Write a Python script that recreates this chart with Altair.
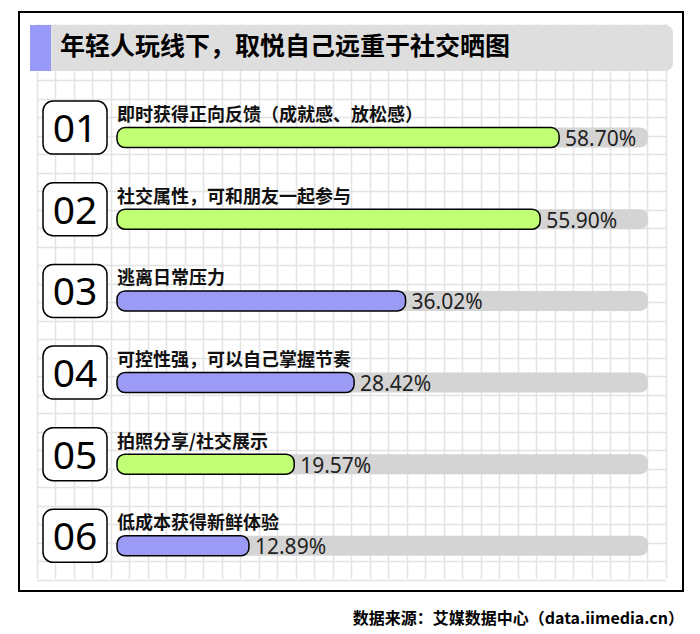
import altair as alt
import pandas as pd

# ---------------- data ----------------
title_text = "年轻人玩线下，取悦自己远重于社交晒图"
source_text = "数据来源：艾媒数据中心（data.iimedia.cn）"
ranks = ["01", "02", "03", "04", "05", "06"]
labels = [
    "即时获得正向反馈（成就感、放松感）",
    "社交属性，可和朋友一起参与",
    "逃离日常压力",
    "可控性强，可以自己掌握节奏",
    "拍照分享/社交展示",
    "低成本获得新鲜体验",
]
values = [58.70, 55.90, 36.02, 28.42, 19.57, 12.89]

# ---------------- style ----------------
GREEN = "#C1FF74"
PURPLE = "#9B9BF6"
bar_colors = [GREEN, GREEN, PURPLE, PURPLE, GREEN, PURPLE]
CJK = "Noto Sans CJK SC"
LATIN = "Noto Sans"

df = pd.DataFrame({"rank": ranks, "label": labels, "value": values,
                   "row": list(range(len(ranks)))})
df["vlabel"] = df["value"].map(lambda v: f"{v:.2f}%")
tdf = pd.DataFrame({"title": [title_text], "source": [source_text]})

# ---------------- background grid (axis grid lines) ----------------
grid = alt.Chart(pd.DataFrame({"gx": [0], "gy": [0]})).mark_point(opacity=0).encode(
    x=alt.X("gx:Q", scale=alt.Scale(domain=[0, 34], range=[17.7, 646.7]),
            axis=alt.Axis(values=list(range(35)), grid=True, labels=False, ticks=False,
                          domain=False, title=None, gridColor="#E3E3E3", gridWidth=1.5)),
    y=alt.Y("gy:Q", scale=alt.Scale(domain=[0, 30], range=[12.8, 567.8]),
            axis=alt.Axis(values=list(range(31)), grid=True, labels=False, ticks=False,
                          domain=False, title=None, gridColor="#E3E3E3", gridWidth=1.5)),
)

# ---------------- rows ----------------
Y = alt.Y("row:Q", scale=alt.Scale(domain=[0, 5], range=[125.6, 533.8]), axis=None)
Y2 = alt.Y2("row")
X = alt.X("value:Q", scale=alt.Scale(domain=[0, 60], range=[142.7, 548.9]), axis=None)

base = alt.Chart(df)
box = base.mark_rect(fill="white", stroke="black", strokeWidth=1.5, cornerRadius=10,
                     yOffset=-36.5, y2Offset=16.5).encode(
    x=alt.value(24), x2=alt.value(88), y=Y, y2=Y2)
num = base.mark_text(font=LATIN, fontSize=39, align="center", baseline="alphabetic",
                     yOffset=4.5, color="black").encode(
    x=alt.value(56), y=Y, text="rank:N")
label = base.mark_text(font=CJK, fontSize=18, fontWeight="bold", align="left",
                       baseline="alphabetic", yOffset=-16.5, color="#111111").encode(
    x=alt.value(98), y=Y, text="label:N")
track = base.mark_rect(fill="#D4D4D4", cornerRadius=8, yOffset=-10, y2Offset=10).encode(
    x=alt.value(98), x2=alt.value(629), y=Y, y2=Y2)
bar = base.mark_rect(stroke="black", strokeWidth=1.5, cornerRadius=8,
                     yOffset=-10, y2Offset=10).encode(
    x=X, x2=alt.value(98), y=Y, y2=Y2,
    color=alt.Color("rank:N", scale=alt.Scale(domain=ranks, range=bar_colors), legend=None))
val = base.mark_text(font=LATIN, fontSize=21, align="left", baseline="alphabetic",
                     dx=6, yOffset=8.5, color="#222222").encode(
    x=X, y=Y, text="vlabel:N")

# ---------------- title & source ----------------
tbox = alt.Chart(tdf).mark_rect(fill="#DEDEDE", cornerRadius=8).encode(
    x=alt.value(11), x2=alt.value(654), y=alt.value(13), y2=alt.value(59))
accent = alt.Chart(tdf).mark_rect(fill="#9999F7").encode(
    x=alt.value(11), x2=alt.value(32), y=alt.value(13), y2=alt.value(59))
ttext = alt.Chart(tdf).mark_text(font=CJK, fontSize=25, fontWeight="bold", align="left",
                                 baseline="alphabetic", color="black").encode(
    x=alt.value(41), y=alt.value(43), text="title:N")
src = alt.Chart(tdf).mark_text(font=CJK, fontSize=16, fontWeight="bold", align="right",
                               baseline="alphabetic", color="black").encode(
    x=alt.value(665), y=alt.value(612), text="source:N")

main = alt.layer(tbox, accent, ttext, track, bar, val, box, num, label, src)

chart = alt.layer(grid, main).resolve_scale(x="independent", y="independent").properties(
    width=664, height=579,
    padding={"left": 11, "top": 4, "right": 9, "bottom": 43},
    autosize=alt.AutoSizeParams(type="none"),
    background="white",
).configure_view(stroke="black", strokeWidth=2)

chart.save("out.html", embed_options={"renderer": "svg", "actions": False})
